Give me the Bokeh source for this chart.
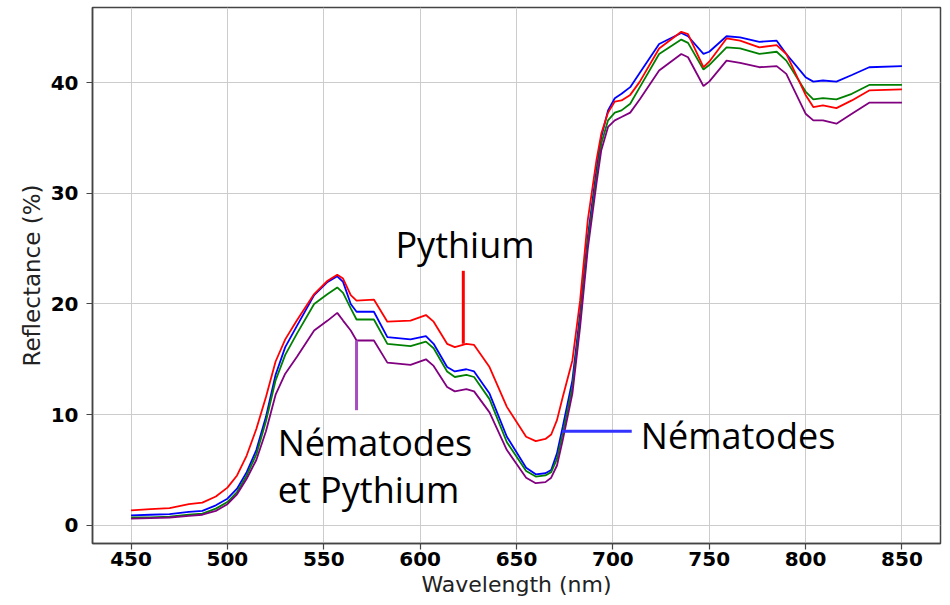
from bokeh.plotting import figure
from bokeh.models import Range1d, FixedTicker
from bokeh.core.properties import value
from bokeh.embed import file_html
from bokeh.resources import INLINE

# ---- data ----
wavelength = [450, 460, 470, 480, 487, 494, 500, 505, 510, 515, 520, 525, 530, 536,
              545, 552, 557, 560, 564, 567, 576, 583, 595, 603, 607, 614, 618, 624,
              628, 636, 645, 655, 660, 665, 668, 671, 674, 679, 683, 687, 691.5, 694,
              697.5, 701, 704.5, 709, 714, 724, 735.5, 739, 747, 750, 759, 766, 776,
              785, 790, 800, 804, 809, 816, 824, 833, 850]

pythium = [1.35, 1.45, 1.55, 1.9, 2.05, 2.6, 3.4, 4.5, 6.3, 8.7, 11.6, 14.8, 16.8, 18.5,
           20.9, 22.1, 22.65, 22.3, 20.8, 20.3, 20.4, 18.4, 18.5, 19.0, 18.4, 16.4, 16.1, 16.4,
           16.3, 14.3, 10.7, 8.0, 7.6, 7.8, 8.2, 9.5, 11.6, 14.9, 20.3, 27.6, 33.0, 35.4,
           37.3, 38.3, 38.4, 38.9, 40.1, 43.1, 44.6, 44.4, 41.4, 41.9, 44.0, 43.8, 43.2,
           43.4, 42.6, 38.9, 37.8, 37.95, 37.7, 38.4, 39.3, 39.4]

nematodes = [0.9, 0.95, 1.0, 1.2, 1.3, 1.8, 2.4, 3.3, 4.8, 6.8, 9.8, 13.6, 16.1, 18.0,
             20.8, 22.0, 22.5, 22.0, 20.0, 19.3, 19.3, 17.0, 16.8, 17.1, 16.4, 14.3, 13.9, 14.1,
             13.9, 11.9, 8.0, 5.2, 4.6, 4.7, 5.0, 6.5, 8.9, 13.1, 19.1, 26.1, 32.1, 35.1,
             37.5, 38.6, 39.0, 39.6, 40.9, 43.5, 44.5, 44.2, 42.6, 42.8, 44.2, 44.1, 43.7,
             43.8, 42.6, 40.5, 40.1, 40.2, 40.1, 40.7, 41.4, 41.5]

temoin = [0.7, 0.72, 0.78, 0.95, 1.05, 1.5, 2.1, 3.0, 4.5, 6.4, 9.4, 13.1, 15.4, 17.3,
          20.0, 20.9, 21.5, 21.0, 19.6, 18.6, 18.6, 16.4, 16.2, 16.6, 16.0, 13.9, 13.4, 13.6,
          13.4, 11.4, 7.5, 4.9, 4.4, 4.5, 4.8, 6.0, 8.3, 12.5, 18.5, 25.6, 31.5, 34.5,
          36.6, 37.3, 37.5, 38.1, 39.6, 42.6, 43.9, 43.6, 41.2, 41.6, 43.2, 43.1, 42.6,
          42.8, 42.0, 39.2, 38.5, 38.6, 38.5, 39.0, 39.8, 39.8]

nem_pyth = [0.6, 0.65, 0.7, 0.85, 0.95, 1.3, 1.9, 2.8, 4.2, 5.9, 8.5, 11.8, 13.7, 15.2,
            17.6, 18.5, 19.2, 18.5, 17.6, 16.7, 16.7, 14.7, 14.5, 15.0, 14.4, 12.5, 12.1, 12.3,
            12.1, 10.2, 6.8, 4.3, 3.8, 3.9, 4.3, 5.4, 7.7, 11.9, 17.9, 25.0, 30.9, 33.9,
            36.0, 36.6, 36.9, 37.3, 38.5, 41.1, 42.6, 42.3, 39.7, 40.1, 42.0, 41.8, 41.4,
            41.5, 40.8, 37.2, 36.6, 36.6, 36.3, 37.2, 38.2, 38.2]

x_ticks = [450, 500, 550, 600, 650, 700, 750, 800, 850]
y_ticks = [0, 10, 20, 30, 40]

# ---- figure ----
p = figure(width=942, height=600, x_range=Range1d(430, 870), y_range=Range1d(-1.65, 46.8),
           output_backend="svg", toolbar_location=None,
           min_border_left=92, min_border_right=2, min_border_top=7, min_border_bottom=57)

p.background_fill_color = "white"
p.border_fill_color = "white"
p.outline_line_color = "#444444"
p.outline_line_width = 1.5

for ax in (p.xaxis, p.yaxis):
    ax.axis_line_color = "#444444"
    ax.axis_line_width = 1.5
    ax.major_tick_line_color = "#444444"
    ax.major_tick_line_width = 1.2
    ax.major_tick_out = 6
    ax.major_tick_in = 0
    ax.minor_tick_line_color = None
    ax.major_label_text_font = "DejaVu Sans"
    ax.major_label_text_font_style = "bold"
    ax.major_label_text_font_size = "20px"
    ax.major_label_text_color = "black"
    ax.axis_label_text_font = "DejaVu Sans"
    ax.axis_label_text_font_style = "normal"
    ax.axis_label_text_color = "#222222"

p.xaxis.ticker = FixedTicker(ticks=x_ticks)
p.yaxis.ticker = FixedTicker(ticks=y_ticks)
p.xaxis.axis_label = "Wavelength (nm)"
p.yaxis.axis_label = "Reflectance (%)"
p.xaxis.axis_label_text_font_size = "22px"
p.yaxis.axis_label_text_font_size = "23px"
p.xaxis.major_label_standoff = 2
p.xaxis.axis_label_standoff = 3
p.yaxis.major_label_standoff = 8
p.yaxis.axis_label_standoff = 3

p.grid.grid_line_color = "#cccccc"
p.grid.grid_line_width = 1

# ---- series ----
p.line(wavelength, nematodes, line_color="blue", line_width=1.8)
p.line(wavelength, temoin, line_color="green", line_width=1.8)
p.line(wavelength, pythium, line_color="red", line_width=1.8)
p.line(wavelength, nem_pyth, line_color="purple", line_width=1.8)

# ---- annotations ----
p.segment(x0=[622.4], y0=[23.0], x1=[622.4], y1=[16.4], line_color="#ff0000", line_width=3)
p.segment(x0=[567.0], y0=[16.7], x1=[567.0], y1=[10.4], line_color="#a64dbf", line_width=3)
p.segment(x0=[673.6], y0=[8.5], x1=[709.8], y1=[8.5], line_color="#3333ff", line_width=3)

ann_font = value("Open Sans")
ann_size = value("36px")
p.text(x=[587.2], y=[25.4], text=["Pythium"], text_font=ann_font, text_font_size=ann_size,
       text_color="black", text_align="left", text_baseline="alphabetic")
p.text(x=[526.1, 526.1], y=[7.5, 3.2], text=["Nématodes", "et Pythium"], text_font=ann_font,
       text_font_size=ann_size, text_color="black", text_align="left", text_baseline="alphabetic")
p.text(x=[714.5], y=[8.1], text=["Nématodes"], text_font=ann_font, text_font_size=ann_size,
       text_color="black", text_align="left", text_baseline="alphabetic")

open("out.html", "w").write(file_html(p, INLINE))
